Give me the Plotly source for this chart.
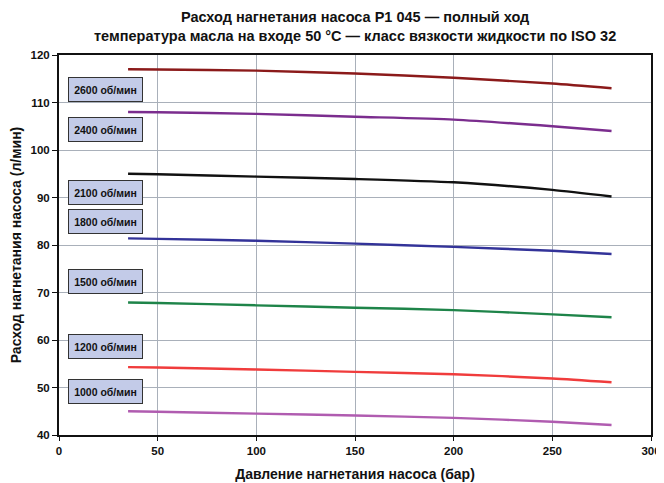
import plotly.graph_objects as go

pressure = [35, 50, 100, 150, 200, 250, 280]
speeds = ["2600 об/мин", "2400 об/мин", "2100 об/мин", "1800 об/мин",
          "1500 об/мин", "1200 об/мин", "1000 об/мин"]
flow_2600 = [117.0, 116.95, 116.7, 116.1, 115.2, 114.0, 113.0]
flow_2400 = [108.0, 107.95, 107.6, 107.0, 106.4, 105.0, 104.0]
flow_2100 = [95.0, 94.9, 94.4, 93.9, 93.2, 91.6, 90.2]
flow_1800 = [81.4, 81.3, 80.9, 80.3, 79.6, 78.8, 78.1]
flow_1500 = [67.9, 67.8, 67.3, 66.8, 66.3, 65.4, 64.8]
flow_1200 = [54.3, 54.2, 53.8, 53.3, 52.8, 51.9, 51.1]
flow_1000 = [45.0, 44.9, 44.5, 44.1, 43.6, 42.8, 42.1]
label_y = [112.7, 104.3, 90.95, 85.05, 72.4, 58.6, 49.1]
colors = ["#8B1A1A", "#7B2D8E", "#111111", "#333399", "#1E8449", "#F03C3C", "#B05CB0"]
title_lines = ["Расход нагнетания насоса P1 045 — полный ход",
               "температура масла на входе 50 °C — класс вязкости жидкости по ISO 32"]

series = [flow_2600, flow_2400, flow_2100, flow_1800, flow_1500, flow_1200, flow_1000]

FONT = "Liberation Sans, Arial"

fig = go.Figure()
for name, ys, c in zip(speeds, series, colors):
    fig.add_trace(go.Scatter(x=pressure, y=ys, mode="lines", name=name,
                             line=dict(color=c, width=2.4, shape="spline", smoothing=0.6),
                             showlegend=False))

for name, ly in zip(speeds, label_y):
    fig.add_annotation(x=23.4, y=ly, text="<b>" + name + "</b>", showarrow=False,
                       xref="x", yref="y", width=71, height=21,
                       bgcolor="#C3CBE8", bordercolor="#333333", borderwidth=1,
                       font=dict(size=10.5, color="#111111", family=FONT))

fig.add_annotation(x=0.5, xref="paper", y=1, yref="paper", yanchor="bottom", yshift=9,
                   text="<b>" + title_lines[0] + "<br>" + title_lines[1] + "</b>",
                   showarrow=False, font=dict(size=14.5, family=FONT, color="#111111"))

fig.update_layout(
    width=656, height=475,
    margin=dict(l=50.5, r=12.5, t=47, b=47.7),
    paper_bgcolor="white", plot_bgcolor="white",
    font=dict(family=FONT, color="#111111"),
    xaxis=dict(range=[0, 300], dtick=50, tick0=0, showgrid=True, gridcolor="#A9B0BA", gridwidth=1,
               showline=True, linecolor="#111111", linewidth=2, mirror=True,
               ticks="outside", ticklen=4, tickcolor="#111111", automargin=False,
               tickfont=dict(size=11.5, family=FONT), tickprefix="<b>", ticksuffix="</b>",
               title=dict(text="<b>Давление нагнетания насоса (бар)</b>", font=dict(size=14), standoff=13),
               zeroline=False),
    yaxis=dict(range=[40, 120], dtick=10, showgrid=True, gridcolor="#A9B0BA", gridwidth=1,
               showline=True, linecolor="#111111", linewidth=2, mirror=True,
               ticks="outside", ticklen=5, tickcolor="#111111", automargin=False,
               tickfont=dict(size=11.5, family=FONT), tickprefix="<b>", ticksuffix="</b>",
               title=dict(text="<b>Расход нагнетания насоса (л/мин)</b>", font=dict(size=14), standoff=8),
               zeroline=False),
)

fig.write_html("out.html")
